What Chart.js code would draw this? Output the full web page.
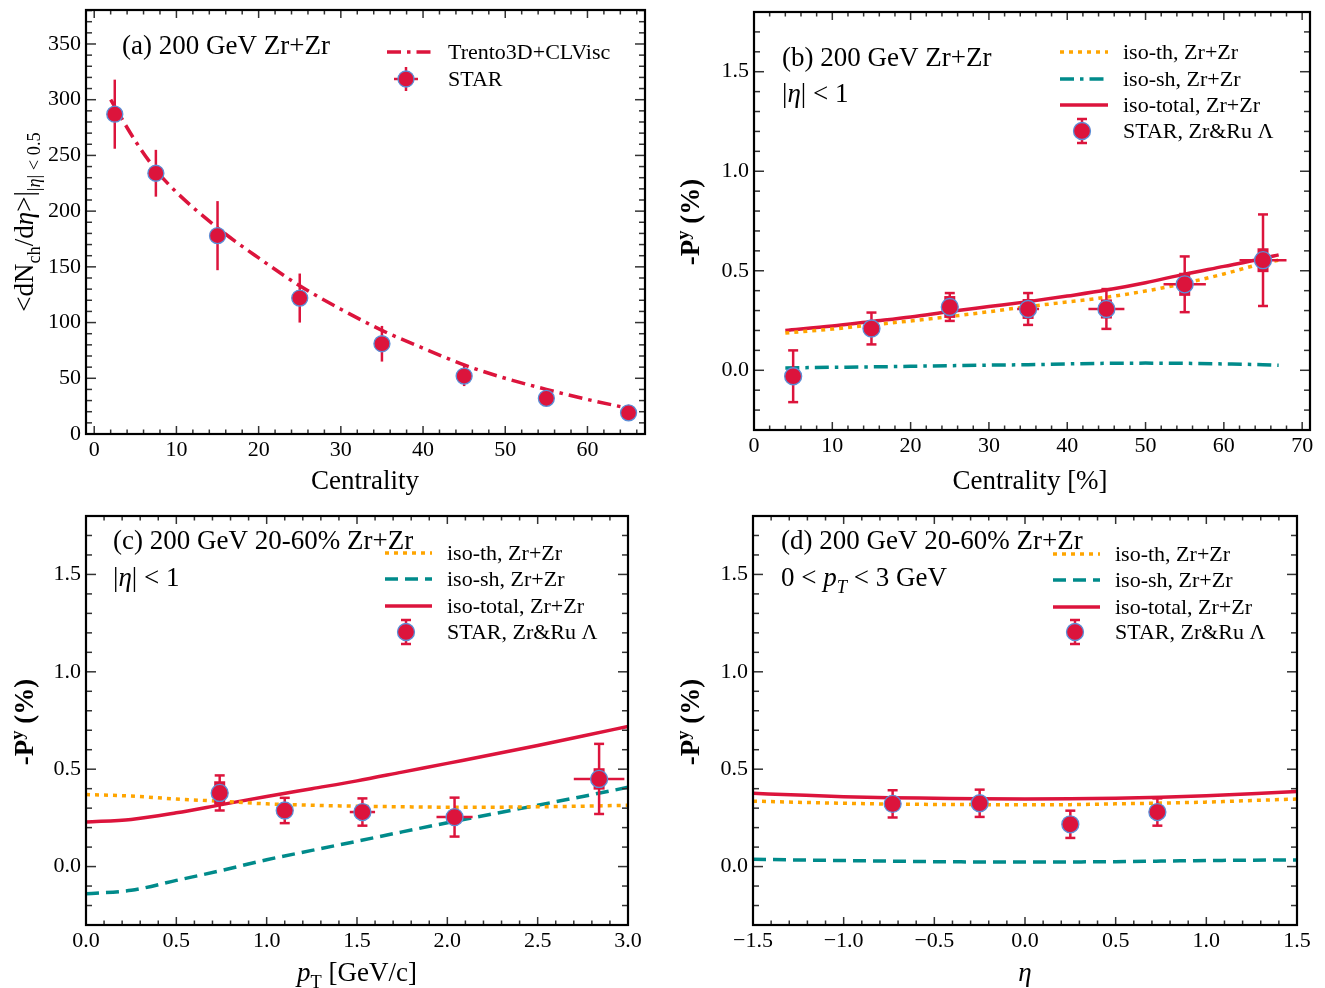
<!DOCTYPE html>
<html>
<head>
<meta charset="utf-8">
<title>Zr+Zr multiplicity and global polarization</title>
<script src="https://cdn.jsdelivr.net/npm/chart.js@4.4.1/dist/chart.umd.min.js"></script>
<style>
  html, body { margin: 0; padding: 0; background: #fff; }
  #wrap { position: relative; width: 1325px; height: 988px; }
  canvas { position: absolute; }
</style>
</head>
<body>
<div id="wrap">
  <canvas id="chartA" width="662" height="500" style="left:0;top:0"></canvas>
  <canvas id="chartB" width="663" height="500" style="left:662px;top:0"></canvas>
  <canvas id="chartC" width="662" height="488" style="left:0;top:500px"></canvas>
  <canvas id="chartD" width="663" height="488" style="left:662px;top:500px"></canvas>
</div>
<script>
// ---- (a) charged multiplicity vs centrality
const centA = [2.5, 7.5, 15, 25, 35, 45, 55, 65];
const starA = [287, 234, 178, 122, 81, 52, 32, 19];
const starAErr = [31, 21, 31, 22, 16, 9, 4, 2];
const trentoX = [2, 5, 7.5, 10, 15, 20, 25, 30, 35, 40, 45, 50, 55, 60, 65];
const trentoY = [300, 263, 237, 217, 185, 158, 133, 112, 93, 77, 62, 50, 40, 31, 23];

// ---- (b) -P^y vs centrality
const centB = [5, 15, 25, 35, 45, 55, 65];
const starB = [-0.03, 0.21, 0.318, 0.308, 0.308, 0.432, 0.553];
const starBErr = [0.13, 0.08, 0.07, 0.08, 0.10, 0.14, 0.23];
const starBSys = [0, 0.02, 0.055, 0.05, 0.048, 0.058, 0.06];
const starBXErr = [0, 0, 0.9, 1.4, 2.3, 2.7, 3];
const centLine = [4, 10, 15, 20, 25, 30, 35, 40, 45, 50, 55, 60, 65, 67];
const isoThB = [0.187, 0.207, 0.228, 0.248, 0.270, 0.294, 0.320, 0.343, 0.367, 0.398, 0.437, 0.484, 0.537, 0.553];
const isoShB = [0.012, 0.015, 0.017, 0.020, 0.023, 0.026, 0.028, 0.032, 0.035, 0.036, 0.035, 0.032, 0.028, 0.025];
const isoTotB = [0.200, 0.222, 0.245, 0.268, 0.295, 0.320, 0.345, 0.373, 0.403, 0.440, 0.483, 0.522, 0.562, 0.580];

// ---- (c) -P^y vs pT, 20-60%
const ptC = [0.74, 1.10, 1.53, 2.04, 2.84];
const starC = [0.378, 0.288, 0.28, 0.254, 0.45];
const starCErr = [0.09, 0.065, 0.07, 0.10, 0.18];
const starCSys = [0.06, 0.03, 0.035, 0.02, 0.055];
const starCXErr = [0.03, 0.045, 0.07, 0.10, 0.14];
const ptLine = [0, 0.25, 0.5, 0.75, 1.0, 1.25, 1.5, 1.75, 2.0, 2.25, 2.5, 2.75, 3.0];
const isoThC = [0.370, 0.362, 0.347, 0.335, 0.322, 0.315, 0.310, 0.307, 0.305, 0.305, 0.307, 0.310, 0.315];
const isoShC = [-0.139, -0.122, -0.071, -0.020, 0.035, 0.083, 0.130, 0.178, 0.225, 0.270, 0.315, 0.360, 0.407];
const isoTotC = [0.229, 0.242, 0.276, 0.318, 0.360, 0.400, 0.440, 0.485, 0.530, 0.575, 0.622, 0.670, 0.720];

// ---- (d) -P^y vs eta, 20-60%
const etaD = [-0.73, -0.25, 0.25, 0.73];
const starD = [0.322, 0.325, 0.217, 0.28];
const starDErr = [0.07, 0.07, 0.07, 0.07];
const etaLine = [-1.5, -1.25, -1.0, -0.75, -0.5, -0.25, 0, 0.25, 0.5, 0.75, 1.0, 1.25, 1.5];
const isoThD = [0.336, 0.330, 0.325, 0.321, 0.319, 0.318, 0.317, 0.318, 0.322, 0.326, 0.331, 0.339, 0.347];
const isoShD = [0.037, 0.034, 0.031, 0.028, 0.025, 0.024, 0.024, 0.024, 0.025, 0.028, 0.031, 0.033, 0.034];
const isoTotD = [0.376, 0.367, 0.359, 0.354, 0.351, 0.348, 0.347, 0.348, 0.351, 0.356, 0.364, 0.374, 0.385];

const FONT = '"Liberation Serif", "Times New Roman", serif';
const RED = '#DC143C', ORANGE = '#FFA500', TEAL = '#008B8B', EDGE = '#5b8fd8';
const NOTE_SIZE = 27, TITLE_SIZE = 27, LEGEND_SIZE = 22, TICK_SIZE = 22;

const pts = (xs, ys) => xs.map((v, i) => ({ x: v, y: ys[i] }));

function lineSet(label, xs, ys, color, dash) {
  return {
    type: 'line', label, data: pts(xs, ys), borderColor: color, borderWidth: 3.5,
    borderDash: dash, borderCapStyle: 'butt', pointRadius: 0, fill: false,
    cubicInterpolationMode: 'monotone'
  };
}
function starSet(label, xs, ys, err, opts) {
  return Object.assign({
    type: 'scatter', label, data: pts(xs, ys), backgroundColor: RED, borderColor: EDGE,
    borderWidth: 1.3, pointRadius: 8.5, yErr: err, cap: 5
  }, opts);
}

// rich text: segments {t, it, sub, sup}
function segFont(s, size, bold) {
  const sz = (s.sub || s.sup) ? size * 0.68 : size;
  return (s.it ? 'italic ' : '') + (bold ? 'bold ' : '') + sz + 'px ' + FONT;
}
function drawRich(ctx, segs, x, y, size, align, rotate, bold) {
  ctx.save();
  ctx.translate(x, y);
  if (rotate) ctx.rotate(rotate);
  let w = 0;
  segs.forEach(s => { ctx.font = segFont(s, size, bold); w += ctx.measureText(s.t).width; });
  let cx = align === 'center' ? -w / 2 : 0;
  ctx.fillStyle = '#000';
  ctx.textAlign = 'left';
  ctx.textBaseline = 'alphabetic';
  const base = size * 0.34;
  segs.forEach(s => {
    ctx.font = segFont(s, size, bold);
    const dy = s.sub ? size * 0.24 : s.sup ? -size * 0.38 : 0;
    ctx.fillText(s.t, cx, base + dy);
    cx += ctx.measureText(s.t).width;
  });
  ctx.restore();
}

function seg(ctx, x0, y0, x1, y1) {
  ctx.beginPath(); ctx.moveTo(x0, y0); ctx.lineTo(x1, y1); ctx.stroke();
}

// error bars, x bars and systematic boxes, drawn just under the markers
const errPlugin = {
  id: 'errbars',
  beforeDatasetDraw(chart, args) {
    const ds = chart.data.datasets[args.index];
    if (!ds.yErr) return;
    const { ctx, scales: { x, y } } = chart;
    ctx.save();
    ctx.strokeStyle = RED; ctx.fillStyle = RED; ctx.lineWidth = 2.5;
    ds.data.forEach((p, i) => {
      const px = x.getPixelForValue(p.x), py = y.getPixelForValue(p.y);
      const top = y.getPixelForValue(p.y + ds.yErr[i]);
      const bot = y.getPixelForValue(p.y - ds.yErr[i]);
      seg(ctx, px, top, px, bot);
      if (ds.cap) {
        seg(ctx, px - ds.cap, top, px + ds.cap, top);
        seg(ctx, px - ds.cap, bot, px + ds.cap, bot);
      }
      if (ds.xErr && ds.xErr[i]) {
        seg(ctx, x.getPixelForValue(p.x - ds.xErr[i]), py, x.getPixelForValue(p.x + ds.xErr[i]), py);
      }
      if (ds.sys && ds.sys[i]) {
        const st = y.getPixelForValue(p.y + ds.sys[i]);
        const sb = y.getPixelForValue(p.y - ds.sys[i]);
        ctx.fillRect(px - 5.5, st, 11, sb - st);
      }
    });
    ctx.restore();
  }
};

function gridValues(min, max, step) {
  const out = [];
  for (let k = Math.ceil(min / step - 1e-9); k <= Math.floor(max / step + 1e-9); k++) out.push(k * step);
  return out;
}
const isMajor = (v, step) => Math.abs(v / step - Math.round(v / step)) < 1e-6;

// frame, inward ticks on all sides, notes, axis titles and legend
function panelPlugin(p) {
  return {
    id: 'panel',
    afterDraw(chart) {
      const { ctx, chartArea: a, scales: { x, y } } = chart;
      ctx.save();
      ctx.strokeStyle = '#333';
      ctx.lineWidth = 1.5;
      gridValues(x.min, x.max, p.xMinor).forEach(v => {
        const len = isMajor(v, p.xStep) ? 8 : 4.5;
        const px = x.getPixelForValue(v);
        seg(ctx, px, a.bottom, px, a.bottom - len);
        seg(ctx, px, a.top, px, a.top + len);
      });
      gridValues(y.min, y.max, p.yMinor).forEach(v => {
        const len = isMajor(v, p.yStep) ? 10 : 6;
        const py = y.getPixelForValue(v);
        seg(ctx, a.left, py, a.left + len, py);
        seg(ctx, a.right, py, a.right - len, py);
      });
      ctx.strokeStyle = '#000';
      ctx.lineWidth = 2.2;
      ctx.strokeRect(a.left, a.top, a.right - a.left, a.bottom - a.top);

      p.notes.forEach(n => drawRich(ctx, n.segs, n.x, n.y, NOTE_SIZE, 'left'));
      drawRich(ctx, p.xTitle, p.xTitlePos[0], p.xTitlePos[1], TITLE_SIZE, 'center');
      drawRich(ctx, p.yTitle, p.yTitlePos[0], p.yTitlePos[1], TITLE_SIZE, 'center', -Math.PI / 2, p.yBold);

      const lg = p.legend;
      const dsets = chart.data.datasets;
      const rows = dsets.filter(d => d.type === 'line').concat(dsets.filter(d => d.type === 'scatter'));
      rows.forEach((ds, i) => {
        const ry = lg.rows[i];
        if (ds.type === 'scatter') {
          ctx.strokeStyle = RED; ctx.lineWidth = 2.5;
          seg(ctx, lg.mx, ry - 12, lg.mx, ry + 12);
          if (ds.cap) {
            seg(ctx, lg.mx - 5, ry - 12, lg.mx + 5, ry - 12);
            seg(ctx, lg.mx - 5, ry + 12, lg.mx + 5, ry + 12);
          } else {
            seg(ctx, lg.mx - 12, ry, lg.mx + 12, ry);
          }
          ctx.beginPath();
          ctx.arc(lg.mx, ry, ds.pointRadius, 0, Math.PI * 2);
          ctx.fillStyle = RED; ctx.fill();
          ctx.strokeStyle = EDGE; ctx.lineWidth = ds.borderWidth; ctx.stroke();
        } else {
          ctx.setLineDash(ds.borderDash || []);
          ctx.lineCap = 'butt';
          ctx.strokeStyle = ds.borderColor; ctx.lineWidth = ds.borderWidth;
          seg(ctx, lg.x0, ry, lg.x1, ry);
          ctx.setLineDash([]);
        }
        drawRich(ctx, [{ t: ds.label }], lg.tx, ry, LEGEND_SIZE, 'left');
      });
      ctx.restore();
    }
  };
}

const fix1 = v => (v < 0 ? '\u2212' : '') + Math.abs(v).toFixed(1);

function makeChart(id, p, datasets) {
  const tickFont = { family: FONT, size: TICK_SIZE };
  return new Chart(document.getElementById(id), {
    data: { datasets },
    options: {
      responsive: false,
      animation: false,
      events: [],
      layout: { padding: { left: 0, right: p.padRight, top: p.padTop, bottom: 0 } },
      plugins: { legend: { display: false }, tooltip: { enabled: false } },
      scales: {
        x: {
          type: 'linear', min: p.x[0], max: p.x[1],
          grid: { display: false, drawTicks: false }, border: { display: false },
          ticks: {
            stepSize: p.xStep, includeBounds: false, autoSkip: false, maxRotation: 0,
            padding: 3, color: '#000', font: tickFont, callback: p.xFmt
          },
          afterFit(s) { s.height = p.xH; s.paddingLeft = 0; s.paddingRight = 0; }
        },
        y: {
          type: 'linear', min: p.y[0], max: p.y[1],
          grid: { display: false, drawTicks: false }, border: { display: false },
          ticks: {
            stepSize: p.yStep, includeBounds: false, autoSkip: false,
            padding: 5, color: '#000', font: tickFont, callback: p.yFmt
          },
          afterFit(s) { s.width = p.yW; s.paddingTop = 0; s.paddingBottom = 0; }
        }
      }
    },
    plugins: [errPlugin, panelPlugin(p)]
  });
}

const ETA_LT_1 = [{ t: '|' }, { t: '\u03b7', it: 1 }, { t: '| < 1' }];
const PY_TITLE = [{ t: '-P' }, { t: 'y', sup: 1 }, { t: ' (%)' }];
const DASH_DOT = [14, 6, 3.5, 6];
const DOTS = [4, 5];
const DASHES = [13, 7];

makeChart('chartA', {
  x: [-1, 67], y: [0, 380.5], xStep: 10, yStep: 50, xMinor: 2, yMinor: 10,
  xFmt: v => String(v), yFmt: v => String(v),
  padTop: 10, padRight: 17, yW: 86, xH: 66,
  notes: [{ x: 122, y: 45, segs: [{ t: '(a) 200 GeV Zr+Zr' }] }],
  xTitle: [{ t: 'Centrality' }], xTitlePos: [365, 480],
  yTitle: [{ t: '<dN' }, { t: 'ch', sub: 1 }, { t: '/d' }, { t: '\u03b7', it: 1 }, { t: '>|' },
           { t: '|', sub: 1 }, { t: '\u03b7', sub: 1, it: 1 }, { t: '| < 0.5', sub: 1 }],
  yTitlePos: [24, 222],
  legend: { x0: 387, x1: 432, tx: 448, mx: 406, rows: [52, 79] }
}, [
  starSet('STAR', centA, starA, starAErr, { cap: 0, pointRadius: 8 }),
  lineSet('Trento3D+CLVisc', trentoX, trentoY, RED, DASH_DOT)
]);

makeChart('chartB', {
  x: [0, 71], y: [-0.3, 1.8], xStep: 10, yStep: 0.5, xMinor: 2, yMinor: 0.1,
  xFmt: v => String(v), yFmt: fix1,
  padTop: 12, padRight: 15, yW: 92, xH: 70,
  notes: [{ x: 120, y: 57, segs: [{ t: '(b) 200 GeV Zr+Zr' }] }, { x: 120, y: 93, segs: ETA_LT_1 }],
  xTitle: [{ t: 'Centrality [%]' }], xTitlePos: [368, 480],
  yTitle: PY_TITLE, yTitlePos: [28, 222], yBold: true,
  legend: { x0: 398, x1: 446, tx: 461, mx: 420, rows: [52, 79, 105, 131] }
}, [
  starSet('STAR, Zr&Ru \u039b', centB, starB, starBErr, { sys: starBSys, xErr: starBXErr }),
  lineSet('iso-th, Zr+Zr', centLine, isoThB, ORANGE, DOTS),
  lineSet('iso-sh, Zr+Zr', centLine, isoShB, TEAL, DASH_DOT),
  lineSet('iso-total, Zr+Zr', centLine, isoTotB, RED, [])
]);

makeChart('chartC', {
  x: [0, 3], y: [-0.3, 1.8], xStep: 0.5, yStep: 0.5, xMinor: 0.1, yMinor: 0.1,
  xFmt: fix1, yFmt: fix1,
  padTop: 16, padRight: 34, yW: 86, xH: 63,
  notes: [{ x: 113, y: 40, segs: [{ t: '(c) 200 GeV 20-60% Zr+Zr' }] }, { x: 113, y: 77, segs: ETA_LT_1 }],
  xTitle: [{ t: 'p', it: 1 }, { t: 'T', sub: 1 }, { t: ' [GeV/c]' }], xTitlePos: [357, 472],
  yTitle: PY_TITLE, yTitlePos: [24, 222], yBold: true,
  legend: { x0: 385, x1: 432, tx: 447, mx: 406, rows: [53, 79, 106, 132] }
}, [
  starSet('STAR, Zr&Ru \u039b', ptC, starC, starCErr, { sys: starCSys, xErr: starCXErr }),
  lineSet('iso-th, Zr+Zr', ptLine, isoThC, ORANGE, DOTS),
  lineSet('iso-sh, Zr+Zr', ptLine, isoShC, TEAL, DASHES),
  lineSet('iso-total, Zr+Zr', ptLine, isoTotC, RED, [])
]);

makeChart('chartD', {
  x: [-1.5, 1.5], y: [-0.3, 1.8], xStep: 0.5, yStep: 0.5, xMinor: 0.1, yMinor: 0.1,
  xFmt: fix1, yFmt: fix1,
  padTop: 16, padRight: 28, yW: 91, xH: 63,
  notes: [{ x: 119, y: 40, segs: [{ t: '(d) 200 GeV 20-60% Zr+Zr' }] },
          { x: 119, y: 77, segs: [{ t: '0 < ' }, { t: 'p', it: 1 }, { t: 'T', sub: 1, it: 1 }, { t: ' < 3 GeV' }] }],
  xTitle: [{ t: '\u03b7', it: 1 }], xTitlePos: [363, 472],
  yTitle: PY_TITLE, yTitlePos: [28, 222], yBold: true,
  legend: { x0: 391, x1: 438, tx: 453, mx: 413, rows: [54, 80, 107, 132] }
}, [
  starSet('STAR, Zr&Ru \u039b', etaD, starD, starDErr, {}),
  lineSet('iso-th, Zr+Zr', etaLine, isoThD, ORANGE, DOTS),
  lineSet('iso-sh, Zr+Zr', etaLine, isoShD, TEAL, DASHES),
  lineSet('iso-total, Zr+Zr', etaLine, isoTotD, RED, [])
]);
</script>
</body>
</html>
